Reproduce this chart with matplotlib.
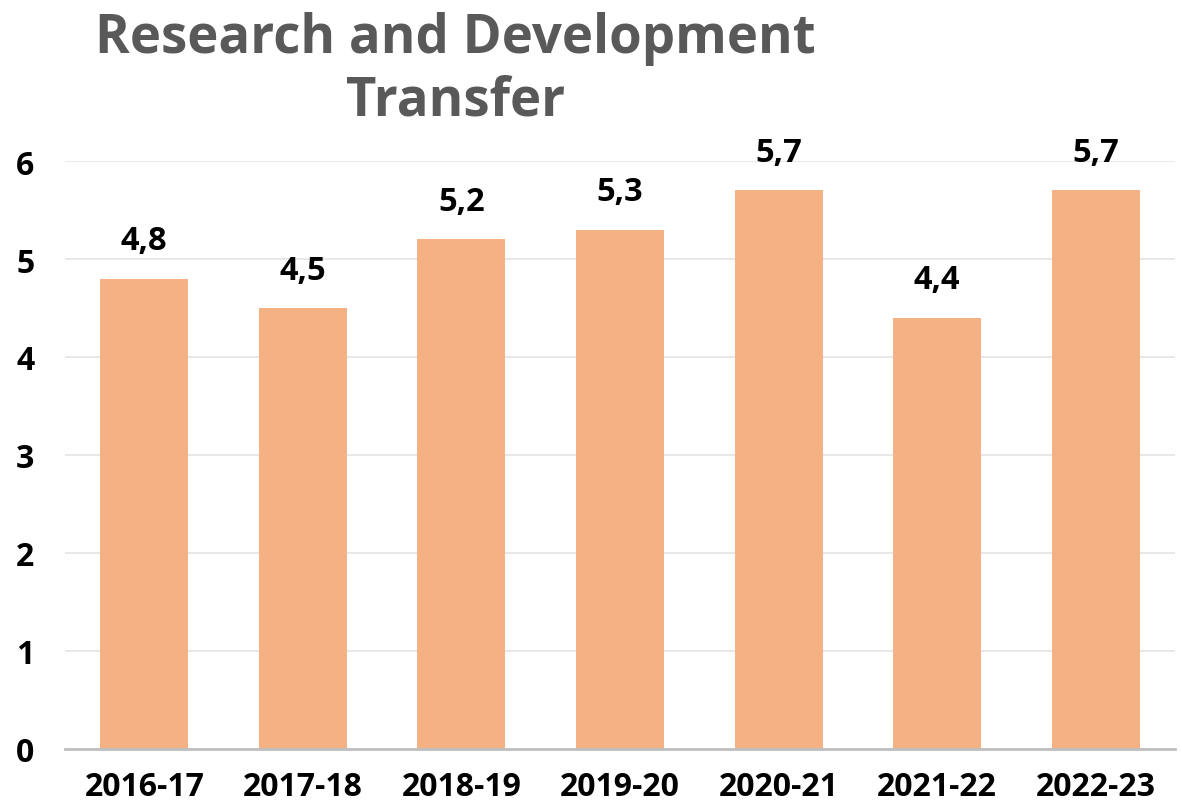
import matplotlib.pyplot as plt

years = ["2016-17", "2017-18", "2018-19", "2019-20", "2020-21", "2021-22", "2022-23"]
values = [4.8, 4.5, 5.2, 5.3, 5.7, 4.4, 5.7]
labels = ["4,8", "4,5", "5,2", "5,3", "5,7", "4,4", "5,7"]

plt.rcParams['font.family'] = ['Open Sans', 'DejaVu Sans']

fig = plt.figure(figsize=(11.82, 8.04), dpi=100)
ax = fig.add_axes([0.055, 0.0672, 0.939, 0.7313])

x = range(len(years))
bars = ax.bar(x, values, width=0.555, color="#f4b183")
for b, lab in zip(bars, labels):
    ax.text(b.get_x() + b.get_width() / 2, b.get_height() + 0.3, lab,
            ha="center", va="baseline", fontsize=23.5, fontweight="bold",
            color="black", clip_on=False)

ax.set_xlim(-0.5, len(years) - 0.5)
ax.set_ylim(0, 6)
ax.set_yticks(range(0, 7))
ax.set_xticks(list(x))
ax.set_xticklabels(years)
ax.grid(axis="y", color="#e8e8e8", linewidth=1.5)
ax.set_axisbelow(True)
for s in ["top", "right", "left"]:
    ax.spines[s].set_visible(False)
ax.spines["bottom"].set_color("#bfbfbf")
ax.spines["bottom"].set_linewidth(2)
ax.tick_params(axis="both", length=0, labelsize=23)
ax.tick_params(axis="x", pad=15)
ax.tick_params(axis="y", pad=22)
for t in ax.get_xticklabels() + ax.get_yticklabels():
    t.set_fontweight("bold")

fig.text(0.385, 0.985, "Research and Development\nTransfer", ha="center", va="top",
         fontsize=38, fontweight="bold", color="#595959", linespacing=1.2)

fig.savefig("out.png", dpi=100)
